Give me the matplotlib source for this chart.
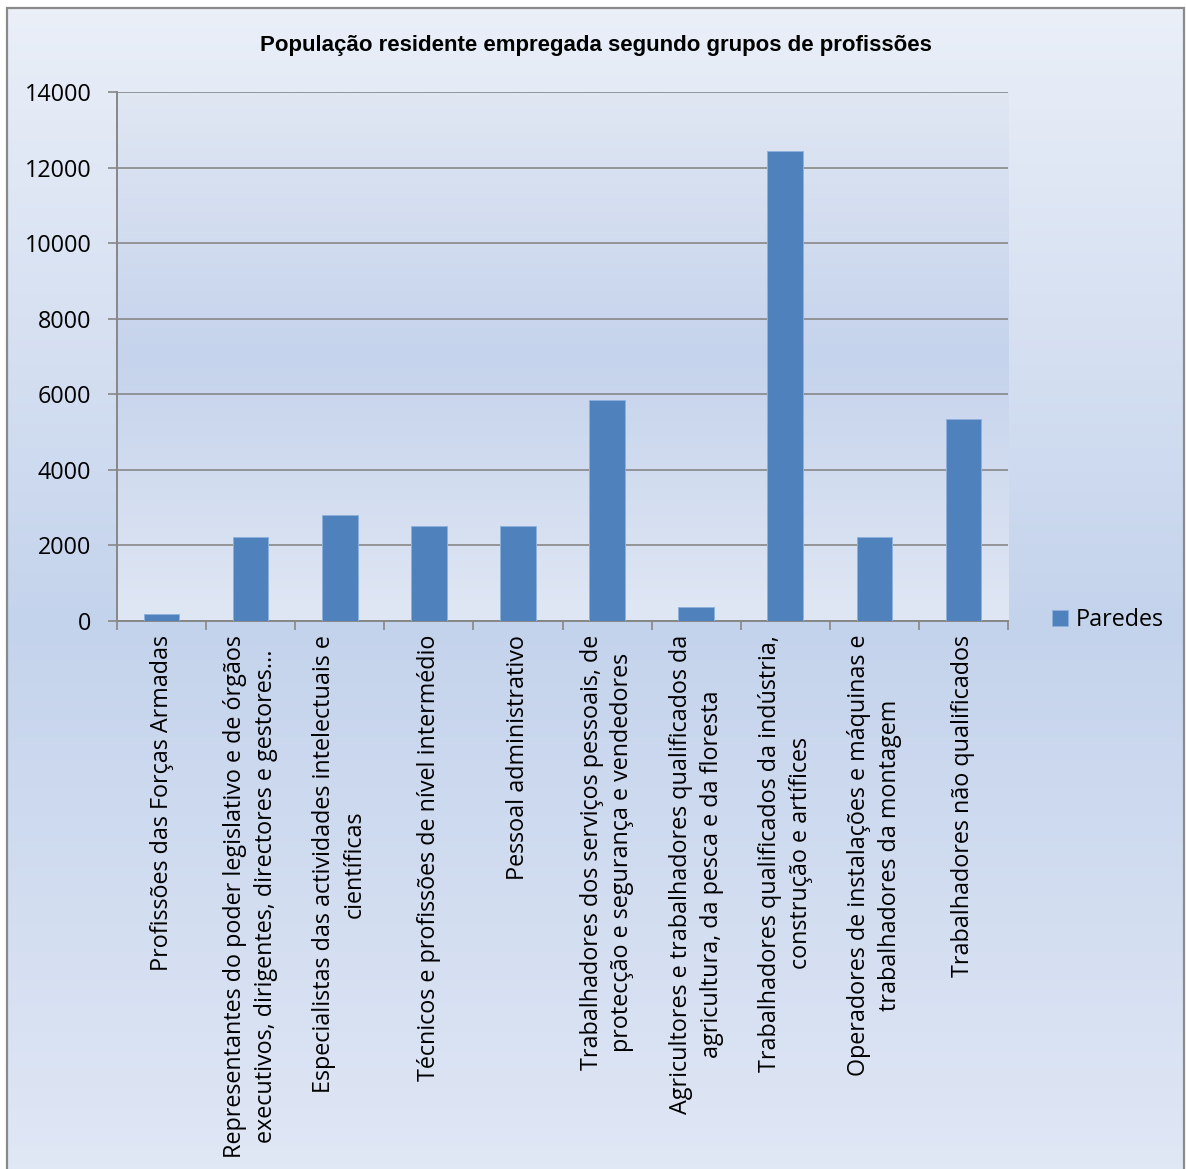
import numpy as np
import matplotlib
matplotlib.use('Agg')
import matplotlib.pyplot as plt
from matplotlib.colors import LinearSegmentedColormap
from matplotlib.patches import Rectangle

# dados
categorias = [
    'Profissões das Forças Armadas',
    'Representantes do poder legislativo e de órgãos\nexecutivos, dirigentes, directores e gestores...',
    'Especialistas das actividades intelectuais e\ncientíficas',
    'Técnicos e profissões de nível intermédio',
    'Pessoal administrativo',
    'Trabalhadores dos serviços pessoais, de\nprotecção e segurança e vendedores',
    'Agricultores e trabalhadores qualificados da\nagricultura, da pesca e da floresta',
    'Trabalhadores qualificados da indústria,\nconstrução e artífices',
    'Operadores de instalações e máquinas e\ntrabalhadores da montagem',
    'Trabalhadores não qualificados',
]
paredes = [185, 2213, 2807, 2523, 2515, 5849, 363, 12428, 2230, 5333]
yticks = [0, 2000, 4000, 6000, 8000, 10000, 12000, 14000]
titulo = 'População residente empregada segundo grupos de profissões'
serie = 'Paredes'

W, H = 1186, 1169
fig = plt.figure(figsize=(W / 100, H / 100), dpi=100, facecolor='white')

# fundo do gráfico em degradê
fundo = LinearSegmentedColormap.from_list(
    'fundo', [(0, '#eaeff8'), (0.53, '#c4d3ec'), (1, '#e0e7f5')])
bg = fig.add_axes([7 / W, 0, (1184 - 7) / W, 1 - 8 / H], zorder=-3)
bg.imshow(np.linspace(0, 1, 256)[:, None], cmap=fundo, aspect='auto',
          extent=[0, 1, 0, 1])
bg.set_axis_off()
fig.patches.append(Rectangle((7 / W, -0.01), (1184 - 7) / W, 1.01 - 8 / H,
                             transform=fig.transFigure, fill=False,
                             edgecolor='#8a8a8a', linewidth=1.6, zorder=5))

pos = [117 / W, 1 - 621 / H, (1008 - 117) / W, (621 - 92) / H]
area = LinearSegmentedColormap.from_list(
    'area', [(0, '#e0e7f3'), (0.5, '#c5d3ec'), (1, '#e0e7f4')])
bg2 = fig.add_axes(pos, zorder=-2)
bg2.imshow(np.linspace(0, 1, 256)[:, None], cmap=area, aspect='auto',
           extent=[0, 1, 0, 1])
bg2.set_axis_off()

ax = fig.add_axes(pos)
ax.set_facecolor('none')
x = np.arange(len(categorias))
ax.bar(x, paredes, width=0.4, color='#4f81bd', edgecolor='#8fb0dc',
       linewidth=0.7, label=serie, zorder=3)

ax.set_xlim(-0.5, len(categorias) - 0.5)
ax.set_ylim(0, 14000)
ax.set_yticks(yticks)
ax.set_yticklabels([str(v) for v in yticks])
ax.grid(axis='y', color='#878787', linewidth=1.2, zorder=1)
ax.set_axisbelow(True)

ax.set_xticks(x)
ax.set_xticklabels(categorias, rotation=90, va='top', ha='center',
                   multialignment='center', linespacing=1.38)
ax.set_xticks(np.arange(len(categorias) + 1) - 0.5, minor=True)
ax.tick_params(axis='x', which='major', length=0, pad=10)
ax.tick_params(axis='x', which='minor', length=6.5, width=1.2,
               color='#878787', direction='out')
ax.tick_params(axis='y', length=6.5, width=1.2, color='#878787', pad=12)
for lbl in ax.get_xticklabels() + ax.get_yticklabels():
    lbl.set_fontfamily('Open Sans')
    lbl.set_fontsize(16.8)
    lbl.set_color('black')

for s in ('top', 'right'):
    ax.spines[s].set_visible(False)
for s in ('left', 'bottom'):
    ax.spines[s].set_color('#878787')
    ax.spines[s].set_linewidth(1.4)

fig.text(596 / W, 1 - 45 / H, titulo, ha='center', va='center',
         fontsize=16, fontweight='bold', family='Liberation Sans')

leg = fig.legend(loc='center left', bbox_to_anchor=(1031 / W, 1 - 620 / H),
                 frameon=False, handlelength=0.7, handleheight=0.7,
                 handletextpad=0.3, prop={'family': 'Open Sans', 'size': 16.8})

fig.savefig('out.png', dpi=100, facecolor='white')
